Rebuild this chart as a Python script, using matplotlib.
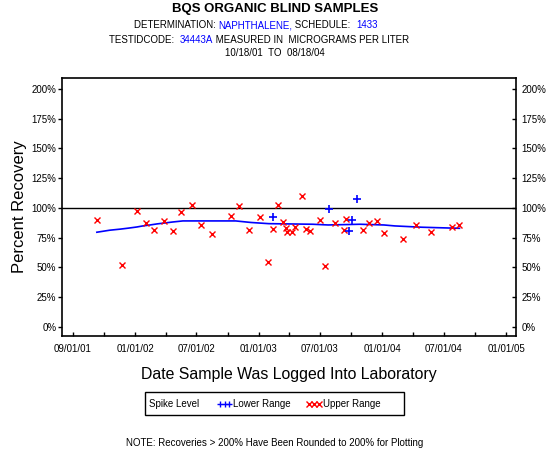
import numpy as np
import pandas as pd
import matplotlib
matplotlib.use("Agg")
import matplotlib.pyplot as plt
import matplotlib.dates as mdates
from matplotlib.lines import Line2D, TICKLEFT
from matplotlib.patches import Rectangle

plt.rcParams['font.family'] = ['Liberation Sans', 'DejaVu Sans']

# Upper range spike samples (red x)
upper_dates = ["2001-09-10", "2001-11-23", "2002-01-08", "2002-02-02", "2002-02-25",
               "2002-03-27", "2002-04-22", "2002-05-16", "2002-06-17", "2002-07-16",
               "2002-08-17", "2002-10-10", "2002-11-03", "2002-12-03", "2003-01-04",
               "2003-01-28", "2003-02-12", "2003-02-27", "2003-03-13", "2003-03-24",
               "2003-03-25", "2003-04-09", "2003-04-19", "2003-05-08", "2003-05-20",
               "2003-06-03", "2003-07-01", "2003-07-15", "2003-08-14", "2003-09-10",
               "2003-09-16", "2003-11-05", "2003-11-22", "2003-12-15", "2004-01-06",
               "2004-03-01", "2004-04-11", "2004-05-23", "2004-07-26", "2004-08-16"]
upper_recovery = [90.2, 52.4, 97.7, 87.1, 81.8,
                  88.8, 80.7, 96.9, 102.8, 85.7,
                  78.4, 93.6, 102.0, 81.8, 92.7,
                  54.6, 82.6, 102.8, 88.0, 83.2,
                  80.1, 80.1, 84.0, 110.3, 82.6,
                  80.9, 90.2, 51.5, 87.7, 81.5,
                  91.0, 81.5, 87.4, 89.1, 79.3,
                  74.2, 85.4, 80.1, 84.3, 85.4]

# Lower range spike samples (blue +)
lower_dates = ["2003-02-11", "2003-07-27", "2003-09-25", "2003-10-03", "2003-10-17"]
lower_recovery = [92.7, 98.9, 81.0, 89.7, 107.6]

# smoothed trend line
trend_dates = ["2001-09-10", "2001-10-18", "2001-11-18", "2001-12-11", "2002-01-06",
               "2002-01-24", "2002-02-14", "2002-03-07", "2002-03-30", "2002-04-22",
               "2002-05-22", "2002-10-25", "2002-12-09", "2003-01-31", "2003-06-10",
               "2003-07-25", "2003-10-27", "2004-01-06", "2004-02-07", "2004-04-27",
               "2004-08-16"]
trend_recovery = [79.6, 81.3, 82.2, 83.0, 84.0,
                  84.9, 85.7, 86.6, 87.4, 88.2,
                  89.1, 89.1, 87.8, 86.8, 86.3,
                  85.7, 86.3, 85.7, 84.9, 83.8,
                  82.9]

# x axis ticks (evenly spaced semi-annual marks as in the original)
tick_dates = ["2001-07-01", "2002-01-01", "2002-07-01", "2003-01-01",
              "2003-07-01", "2004-01-01", "2004-07-01", "2005-01-01"]
tick_labels = ["09/01/01", "01/01/02", "07/01/02", "01/01/03",
               "07/01/03", "01/01/04", "07/01/04", "01/01/05"]
y_ticks = [0, 25, 50, 75, 100, 125, 150, 175, 200]

fig = plt.figure(figsize=(5.5, 4.5), dpi=100)
ax = fig.add_axes([0.1127, 0.2533, 0.8255, 0.5734])

ax.plot(pd.to_datetime(trend_dates).to_numpy(), trend_recovery, color='blue', lw=1.2, zorder=2)
ax.axhline(100, color='black', lw=1.0, zorder=1)
ax.plot(pd.to_datetime(upper_dates).to_numpy(), upper_recovery, linestyle='none',
        marker='x', color='red', markersize=5, mew=1.0, zorder=3)
ax.plot(pd.to_datetime(lower_dates).to_numpy(), lower_recovery, linestyle='none',
        marker='+', color='blue', markersize=6, mew=1.2, zorder=3)

ax.set_xlim(pd.Timestamp("2001-05-30"), pd.Timestamp("2005-01-30"))
ax.set_ylim(-7.6, 209.2)

ax.set_xticks(pd.to_datetime(tick_dates).to_numpy())
ax.set_xticklabels(tick_labels, fontsize=7)
ax.xaxis.set_minor_locator(mdates.MonthLocator(bymonth=[4, 10]))
ax.tick_params(axis='x', which='both', direction='in', length=3, width=1, pad=6)

ax.set_yticks(y_ticks)
ax.set_yticklabels([f"{v}%" for v in y_ticks], fontsize=7)
ax.tick_params(axis='y', which='both', direction='out', length=3, width=1, pad=1,
               right=True, labelright=True)
# right side ticks point inwards
for t in ax.yaxis.get_major_ticks():
    t.tick2line.set_marker(TICKLEFT)

for s in ax.spines.values():
    s.set_linewidth(1.2)

ax.set_ylabel("Percent Recovery", fontsize=12, labelpad=3)
ax.set_xlabel("Date Sample Was Logged Into Laboratory", fontsize=11.4, labelpad=9)

# titles
fig.text(0.5, 1 - 9 / 450, "BQS ORGANIC BLIND SAMPLES", ha='center', va='center',
         fontsize=9.5, fontweight='bold')


def chain(x, y, parts, size=7):
    # write coloured pieces of text one after another on the same line
    t = fig.text(x, y, parts[0][0], color=parts[0][1], fontsize=size, ha='left', va='bottom')
    for s, c in parts[1:]:
        t = ax.annotate(s, xy=(1, 0), xycoords=t, va='bottom', ha='left',
                        color=c, fontsize=size, annotation_clip=False)


chain(134 / 550, 1 - 30 / 450, [("DETERMINATION: ", 'black'), ("NAPHTHALENE,", 'blue'),
                                (" SCHEDULE:  ", 'black'), ("1433", 'blue')])
chain(109 / 550, 1 - 45 / 450, [("TESTIDCODE:  ", 'black'), ("34443A", 'blue'),
                                (" MEASURED IN  MICROGRAMS PER LITER", 'black')])
fig.text(0.5, 1 - 53 / 450, "10/18/01  TO  08/18/04", ha='center', va='center', fontsize=7)

# legend box
fig.patches.append(Rectangle((145 / 550, 1 - 415 / 450), 259 / 550, 23 / 450,
                             transform=fig.transFigure, fill=False, lw=1.0, edgecolor='black'))
fig.text(149 / 550, 1 - 404 / 450, "Spike Level", fontsize=7, va='center')
handles = [Line2D([], [], linestyle='none', marker='+', color='blue', markersize=5, mew=1.0),
           Line2D([], [], linestyle='none', marker='x', color='red', markersize=4, mew=1.0)]
fig.legend(handles, ["Lower Range", "Upper Range"], ncol=2, numpoints=3, frameon=False,
           fontsize=7, loc='center left', bbox_to_anchor=(208 / 550, 1 - 404 / 450),
           handlelength=1.6, handletextpad=0.1, columnspacing=1.6)

fig.text(0.5, 1 - 443 / 450, "NOTE: Recoveries > 200% Have Been Rounded to 200% for Plotting",
         ha='center', va='center', fontsize=7)

fig.savefig("out.png", dpi=100)
